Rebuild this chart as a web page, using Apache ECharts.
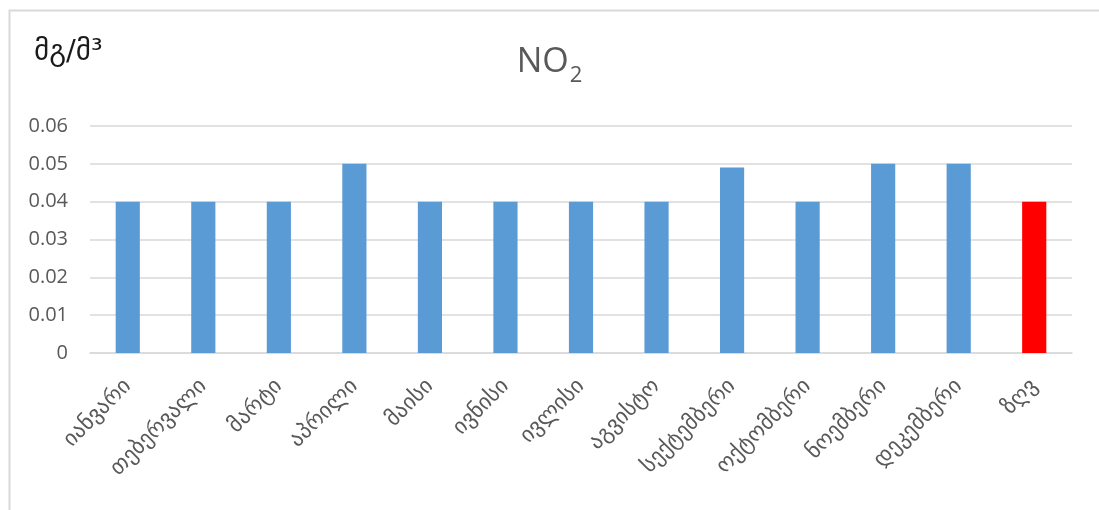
<!DOCTYPE html>
<html>
<head>
<meta charset="utf-8">
<script src="https://cdn.jsdelivr.net/npm/echarts@6/dist/echarts.min.js"></script>
<style>
  html, body { margin: 0; padding: 0; background: #ffffff; }
  #chart { width: 1099px; height: 510px; }
</style>
</head>
<body>
<div id="chart"></div>
<script>
// Monthly NO2 concentration (mg/m³) and the permitted limit (last bar)
const categories = ['იანვარი', 'თებერვალი', 'მარტი', 'აპრილი', 'მაისი', 'ივნისი', 'ივლისი',
  'აგვისტო', 'სექტემბერი', 'ოქტომბერი', 'ნოემბერი', 'დეკემბერი', 'ზღვ'];
const values = [0.04, 0.04, 0.04, 0.05, 0.04, 0.04, 0.04, 0.04, 0.049, 0.04, 0.05, 0.05, 0.04];
const limitLabel = 'ზღვ';
const yTicks = ['0', '0.01', '0.02', '0.03', '0.04', '0.05', '0.06'];
const unitText = 'მგ/მ³';

const barBlue = '#5b9bd5';
const limitRed = '#ff0000';
const textGrey = '#595959';
const georgianFont = '"DejaVu Sans", sans-serif';
const latinFont = '"Open Sans", "Liberation Sans", sans-serif';

const chart = echarts.init(document.getElementById('chart'), null, { renderer: 'canvas' });

const seriesData = values.map((v, i) => ({
  value: v,
  itemStyle: { color: categories[i] === limitLabel ? limitRed : barBlue }
}));

chart.setOption({
  backgroundColor: '#ffffff',
  animation: false,
  title: {
    // chemical formula with a lowered, smaller subscript
    text: '{main|NO}{sub|2}',
    left: 'center',
    top: 40,
    textStyle: {
      fontWeight: 'normal',
      rich: {
        main: { fontFamily: latinFont, fontSize: 34, fontWeight: 'normal', color: textGrey,
                lineHeight: 46, verticalAlign: 'top' },
        sub: { fontFamily: latinFont, fontSize: 22, fontWeight: 'normal', color: textGrey,
               lineHeight: 30, verticalAlign: 'top', padding: [20, 0, 0, 1] }
      }
    }
  },
  graphic: [
    {
      type: 'rect',
      left: 7, top: 8,
      shape: { width: 1200, height: 600 },
      style: { fill: 'none', stroke: '#d9d9d9', lineWidth: 2 },
      silent: true
    },
    {
      type: 'text',
      left: 34, top: 38,
      style: { text: unitText, font: '29px ' + georgianFont, fill: '#1a1a1a' },
      silent: true
    }
  ],
  grid: { left: 90, right: 27, top: 126, bottom: 157, containLabel: false },
  xAxis: {
    type: 'category',
    data: categories,
    axisLine: { show: true, lineStyle: { color: '#d9d9d9', width: 1.5 } },
    axisTick: { show: false },
    axisLabel: {
      rotate: 45,
      interval: 0,
      margin: 30,
      fontFamily: georgianFont,
      fontSize: 22,
      color: textGrey
    }
  },
  yAxis: {
    type: 'value',
    min: 0,
    max: 0.06,
    interval: 0.01,
    axisLine: { show: false },
    axisTick: { show: false },
    splitLine: { lineStyle: { color: '#d9d9d9', width: 1.5 } },
    axisLabel: {
      margin: 22,
      fontFamily: latinFont,
      fontSize: 20,
      color: textGrey,
      formatter: (v) => yTicks[Math.round(v * 100)]
    }
  },
  series: [{
    type: 'bar',
    data: seriesData,
    barWidth: '32%'
  }]
});
</script>
</body>
</html>
